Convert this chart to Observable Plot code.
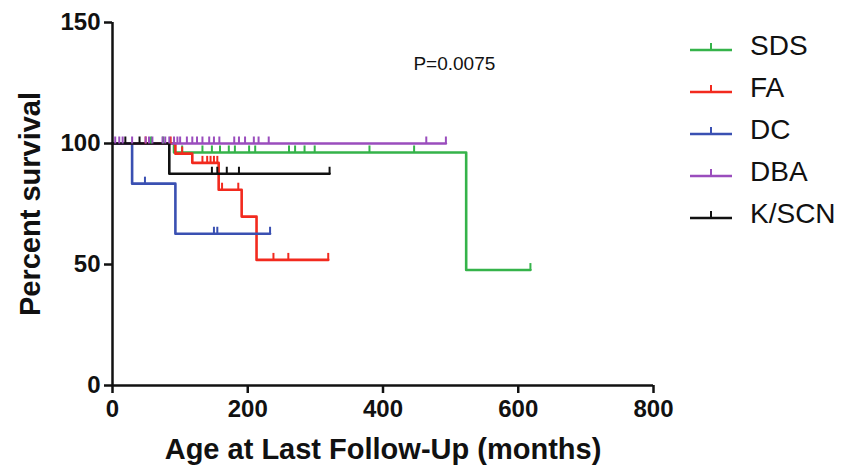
<!DOCTYPE html>
<html><head><meta charset="utf-8">
<script src="https://cdn.jsdelivr.net/npm/d3@7"></script>
<script src="https://cdn.jsdelivr.net/npm/@observablehq/plot@0.6"></script>
<style>
body{margin:0;background:#fff;}
#wrap{position:relative;width:849px;height:472px;}
#legend{position:absolute;left:688px;top:25px;font-family:"Liberation Sans",Arial,sans-serif;font-size:28px;color:#111;}
.item{display:flex;align-items:center;height:42px;}
.item svg{margin-right:16px;}
</style></head><body><div id="wrap"></div>
<script>
const groups = ["SDS", "FA", "DC", "DBA", "K/SCN"];
const colors = ["#35b34a", "#f22a1e", "#3a50b2", "#9a4dbd", "#111111"];

// Kaplan-Meier steps (months, percent survival)
const sdsTime = [0, 91, 523, 618];
const sdsSurv = [100, 96.3, 47.7, 47.7];
const sdsCensor = [57, 75, 103, 133, 147, 159, 172, 181, 202, 211, 261, 270, 284, 299, 380, 446, 618];

const faTime = [0, 93, 118, 157, 191, 213, 319];
const faSurv = [100, 95.8, 92, 80.9, 69.8, 51.9, 51.9];
const faCensor = [49, 86, 103, 133, 140, 145, 150, 155, 162, 186, 238, 260, 319];

const dcTime = [0, 29, 93, 233];
const dcSurv = [100, 83.4, 62.7, 62.7];
const dcCensor = [48, 150, 155, 233];

const dbaTime = [0, 493];
const dbaSurv = [100, 100];
const dbaCensor = [4, 10, 15, 29, 49, 54, 59, 74, 78, 84, 91, 96, 100, 110, 118, 125, 133, 143, 150, 158, 180, 187, 196, 209, 216, 231, 464, 493];

const kscnTime = [0, 84, 321];
const kscnSurv = [100, 87.5, 87.5];
const kscnCensor = [19, 40, 147, 155, 169, 187, 321];

const xTicks = [0, 200, 400, 600, 800];
const yTicks = [0, 50, 100, 150];
const pLabel = "P=0.0075";
const pPos = {x: 445, y: 133};

const series = [
  {group: "SDS", time: sdsTime, surv: sdsSurv, censor: sdsCensor},
  {group: "FA", time: faTime, surv: faSurv, censor: faCensor},
  {group: "DC", time: dcTime, surv: dcSurv, censor: dcCensor},
  {group: "DBA", time: dbaTime, surv: dbaSurv, censor: dbaCensor},
  {group: "K/SCN", time: kscnTime, surv: kscnSurv, censor: kscnCensor}
];

const stepData = [];
const censorData = [];
for (const s of series) {
  s.time.forEach((t, i) => stepData.push({group: s.group, t, s: s.surv[i]}));
  for (const c of s.censor) {
    let v = s.surv[0];
    for (let i = 0; i < s.time.length; i++) if (s.time[i] <= c) v = s.surv[i];
    censorData.push({group: s.group, t: c, s: v});
  }
}

const censorTick = {draw(ctx) { ctx.moveTo(0, 0); ctx.lineTo(0, -7); }};
const font = "'Liberation Sans', Arial, sans-serif";

const chart = Plot.plot({
  width: 849,
  height: 472,
  marginLeft: 112,
  marginRight: 196,
  marginTop: 22,
  marginBottom: 87,
  style: {fontFamily: font, fontSize: "24px", fontWeight: "bold", color: "#111", background: "#fff"},
  x: {domain: [0, 800]},
  y: {domain: [0, 150]},
  color: {domain: groups, range: colors},
  marks: [
    Plot.line(stepData, {x: "t", y: "s", z: "group", stroke: "group", curve: "step-after", strokeWidth: 2.6}),
    Plot.dot(censorData, {x: "t", y: "s", stroke: "group", fill: "none", symbol: censorTick, r: 3, strokeWidth: 2}),
    Plot.ruleX([0], {y1: 0, y2: 150, stroke: "#111", strokeWidth: 2.5}),
    Plot.ruleY([0], {x1: 0, x2: 800, stroke: "#111", strokeWidth: 2.5}),
    Plot.axisY({ticks: yTicks, tickSize: 8, tickPadding: 4, label: null, strokeWidth: 2.5, fontSize: 24, fontWeight: "bold"}),
    Plot.axisX({ticks: xTicks, tickSize: 8, tickPadding: 6, label: null, strokeWidth: 2.5, fontSize: 24, fontWeight: "bold"}),
    Plot.text(["Percent survival"], {frameAnchor: "left", dx: -82, rotate: -90, textAnchor: "middle", lineAnchor: "middle", fontSize: 29, fontWeight: "bold"}),
    Plot.text(["Age at Last Follow-Up (months)"], {frameAnchor: "bottom", dy: 73, fontSize: 29, fontWeight: "bold"}),
    Plot.text([pLabel], {x: () => pPos.x, y: () => pPos.y, text: d => d, textAnchor: "start", fontSize: 19, fontWeight: "normal"})
  ]
});
const wrap = document.getElementById("wrap");
wrap.appendChild(chart);

const legend = document.createElement("div");
legend.id = "legend";
groups.forEach((g, i) => {
  const item = document.createElement("div");
  item.className = "item";
  item.innerHTML = `<svg width="46" height="12"><line x1="2" x2="44" y1="10" y2="10" stroke="${colors[i]}" stroke-width="2.4"/><line x1="23" x2="23" y1="10" y2="3" stroke="${colors[i]}" stroke-width="2"/></svg><span>${g}</span>`;
  legend.appendChild(item);
});
wrap.appendChild(legend);
</script>
</body></html>
